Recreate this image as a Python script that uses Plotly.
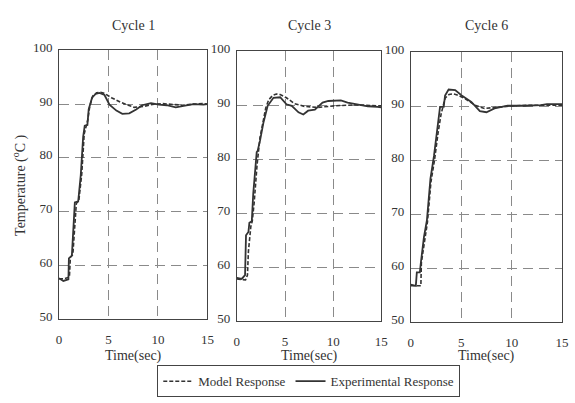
import plotly.graph_objects as go

W, H = 575, 403

cycle_titles = ["Cycle 1", "Cycle 3", "Cycle 6"]
x_ticks = [0, 5, 10, 15]
y_ticks = [50, 60, 70, 80, 90, 100]

# Cycle 1
c1_exp_t = [0, 0.44, 0.95, 1.0, 1.3, 1.54, 1.6, 1.94, 2.2, 2.44, 2.6, 2.87, 3.0, 3.34, 3.7, 4.1, 4.6, 5.1, 5.8, 6.4, 7.1, 7.8, 8.4, 9.3, 10.1, 10.9, 11.8, 12.6, 13.6, 14.6, 15]
c1_exp_y = [57.6, 57.1, 57.4, 61.3, 61.8, 69.0, 71.7, 71.9, 76.8, 83.9, 86.0, 86.1, 89.0, 91.2, 91.9, 92.1, 91.7, 89.9, 88.8, 88.2, 88.3, 89.0, 89.8, 90.2, 89.9, 89.8, 89.4, 89.7, 90.0, 89.9, 90.0]
c1_mod_t = [0, 0.5, 1.05, 1.15, 1.4, 1.6, 1.75, 2.0, 2.3, 2.55, 2.75, 2.9, 3.1, 3.4, 3.8, 4.2, 4.6, 5.3, 6.3, 7.0, 7.6, 8.6, 9.6, 10.5, 11.5, 12.5, 13.5, 14.5, 15]
c1_mod_y = [57.5, 57.5, 57.8, 61.5, 62.0, 68.0, 71.5, 72.0, 77.0, 84.5, 86.3, 87.0, 89.5, 91.5, 92.1, 92.2, 92.0, 91.2, 90.3, 89.8, 89.4, 89.6, 90.0, 90.1, 89.9, 89.8, 90.0, 90.1, 90.0]

# Cycle 3
c3_exp_t = [0, 0.5, 0.85, 0.95, 1.2, 1.3, 1.55, 1.7, 2.06, 2.15, 2.4, 2.75, 3.2, 3.8, 4.5, 5.15, 5.7, 6.4, 6.9, 7.4, 8.1, 8.9, 9.5, 10.1, 10.8, 11.5, 12.5, 13.6, 14.6, 15]
c3_exp_y = [58.0, 57.8, 58.5, 65.9, 66.5, 68.2, 68.5, 73.6, 81.3, 81.5, 83.4, 86.7, 89.9, 91.4, 91.5, 90.2, 89.9, 88.7, 88.3, 89.0, 89.2, 90.5, 90.8, 90.8, 90.9, 90.5, 90.2, 89.8, 89.7, 89.6]
c3_mod_t = [0, 0.9, 1.1, 1.2, 1.45, 1.6, 1.8, 2.1, 2.4, 2.7, 3.0, 3.3, 3.7, 4.1, 4.5, 5.15, 6.0, 7.0, 8.4, 10.1, 12.5, 14.6, 15]
c3_mod_y = [57.8, 57.6, 58.5, 62.9, 67.5, 68.5, 72.0, 79.0, 84.0, 87.0, 89.5, 91.0, 91.8, 92.1, 92.0, 91.4, 90.3, 89.8, 89.6, 89.9, 90.1, 89.9, 89.9]

# Cycle 6
c6_exp_t = [0, 0.5, 0.6, 0.9, 1.0, 1.3, 1.6, 1.95, 2.3, 2.6, 2.9, 3.26, 3.4, 3.75, 4.4, 5.05, 6.0, 6.85, 7.5, 8.3, 9.6, 11.2, 12.9, 13.5, 15]
c6_exp_y = [56.9, 56.7, 59.2, 59.2, 61.0, 65.7, 68.9, 76.6, 80.8, 85.5, 89.9, 89.9, 92.0, 93.1, 93.0, 92.0, 90.8, 89.1, 88.9, 89.6, 90.1, 90.1, 90.2, 90.4, 90.4]
c6_mod_t = [0, 1.0, 1.05, 1.35, 1.65, 2.0, 2.35, 2.7, 3.0, 3.4, 3.8, 4.2, 4.6, 5.4, 6.35, 7.3, 8.6, 10.3, 12.0, 15]
c6_mod_y = [56.7, 56.7, 61.0, 65.0, 68.5, 76.0, 80.0, 85.0, 88.5, 91.5, 92.2, 92.3, 92.1, 91.4, 90.2, 89.6, 89.8, 90.1, 90.2, 90.2]

series = [
    (c1_mod_t, c1_mod_y, c1_exp_t, c1_exp_y),
    (c3_mod_t, c3_mod_y, c3_exp_t, c3_exp_y),
    (c6_mod_t, c6_mod_y, c6_exp_t, c6_exp_y),
]

# panel pixel boxes: (left, right, top, bottom)
boxes = [(57, 208, 42, 321), (238, 385, 43, 323), (415, 569, 44, 324)]

FONT = "Liberation Serif, Times New Roman, serif"
TXT = "#333333"
LINE = "#333333"
GRID = "#8a8a8a"

fig = go.Figure()
layout = dict(
    width=W, height=H,
    margin=dict(l=0, r=0, t=0, b=0),
    paper_bgcolor="white", plot_bgcolor="white",
    font=dict(family=FONT, size=13, color=TXT),
    showlegend=True,
    legend=dict(orientation="h", x=157 / W, y=1 - 369 / H, xanchor="left", yanchor="top",
                bordercolor="#444444", borderwidth=1, bgcolor="white",
                font=dict(family=FONT, size=13, color=TXT), tracegroupgap=0),
)

annotations = []
for i, ((mt, my, et, ey), (l, r, t, b)) in enumerate(zip(series, boxes)):
    sx = "" if i == 0 else str(i + 1)
    xa, ya = "x" + sx, "y" + sx
    fig.add_trace(go.Scatter(x=mt, y=my, mode="lines", xaxis=xa, yaxis=ya,
                             line=dict(color=LINE, width=1.6, dash="4px,2px"),
                             name="Model Response", showlegend=(i == 0)))
    fig.add_trace(go.Scatter(x=et, y=ey, mode="lines", xaxis=xa, yaxis=ya,
                             line=dict(color=LINE, width=1.8),
                             name="Experimental Response", showlegend=(i == 0)))
    layout["xaxis" + sx] = dict(
        domain=[l / W, r / W], anchor=ya, range=[0, 15],
        tickvals=x_ticks, ticks="", showline=True, mirror=True,
        linecolor="#444444", linewidth=1, showgrid=True, gridcolor=GRID,
        griddash="10px,6px", gridwidth=1, zeroline=False,
        tickfont=dict(family=FONT, size=13, color=TXT), ticklabelstandoff=8,
    )
    layout["yaxis" + sx] = dict(
        domain=[1 - b / H, 1 - t / H], anchor=xa, range=[50, 100],
        tickvals=y_ticks, ticks="", showline=True, mirror=True,
        linecolor="#444444", linewidth=1, showgrid=True, gridcolor=GRID,
        griddash="10px,6px", gridwidth=1, zeroline=False,
        tickfont=dict(family=FONT, size=13, color=TXT), ticklabelstandoff=3,
        ticklabelshift=-3,
    )
    cx = (l + r) / 2
    annotations.append(dict(text=cycle_titles[i], x=cx / W, y=1 - 16 / H, xref="paper", yref="paper",
                            showarrow=False, xanchor="center", yanchor="middle",
                            font=dict(family=FONT, size=14, color=TXT)))
    annotations.append(dict(text="Time(sec)", x=cx / W, y=1 - 359 / H, xref="paper", yref="paper",
                            showarrow=False, xanchor="center", yanchor="middle", borderpad=0,
                            font=dict(family=FONT, size=14, color=TXT)))

annotations.append(dict(text="Temperature (<sup>o</sup>C )", x=17 / W, y=1 - 182 / H,
                        xref="paper", yref="paper", showarrow=False, textangle=-90,
                        xanchor="center", yanchor="middle",
                        font=dict(family=FONT, size=14, color=TXT)))
layout["annotations"] = annotations
fig.update_layout(**layout)
fig.write_html("out.html")
